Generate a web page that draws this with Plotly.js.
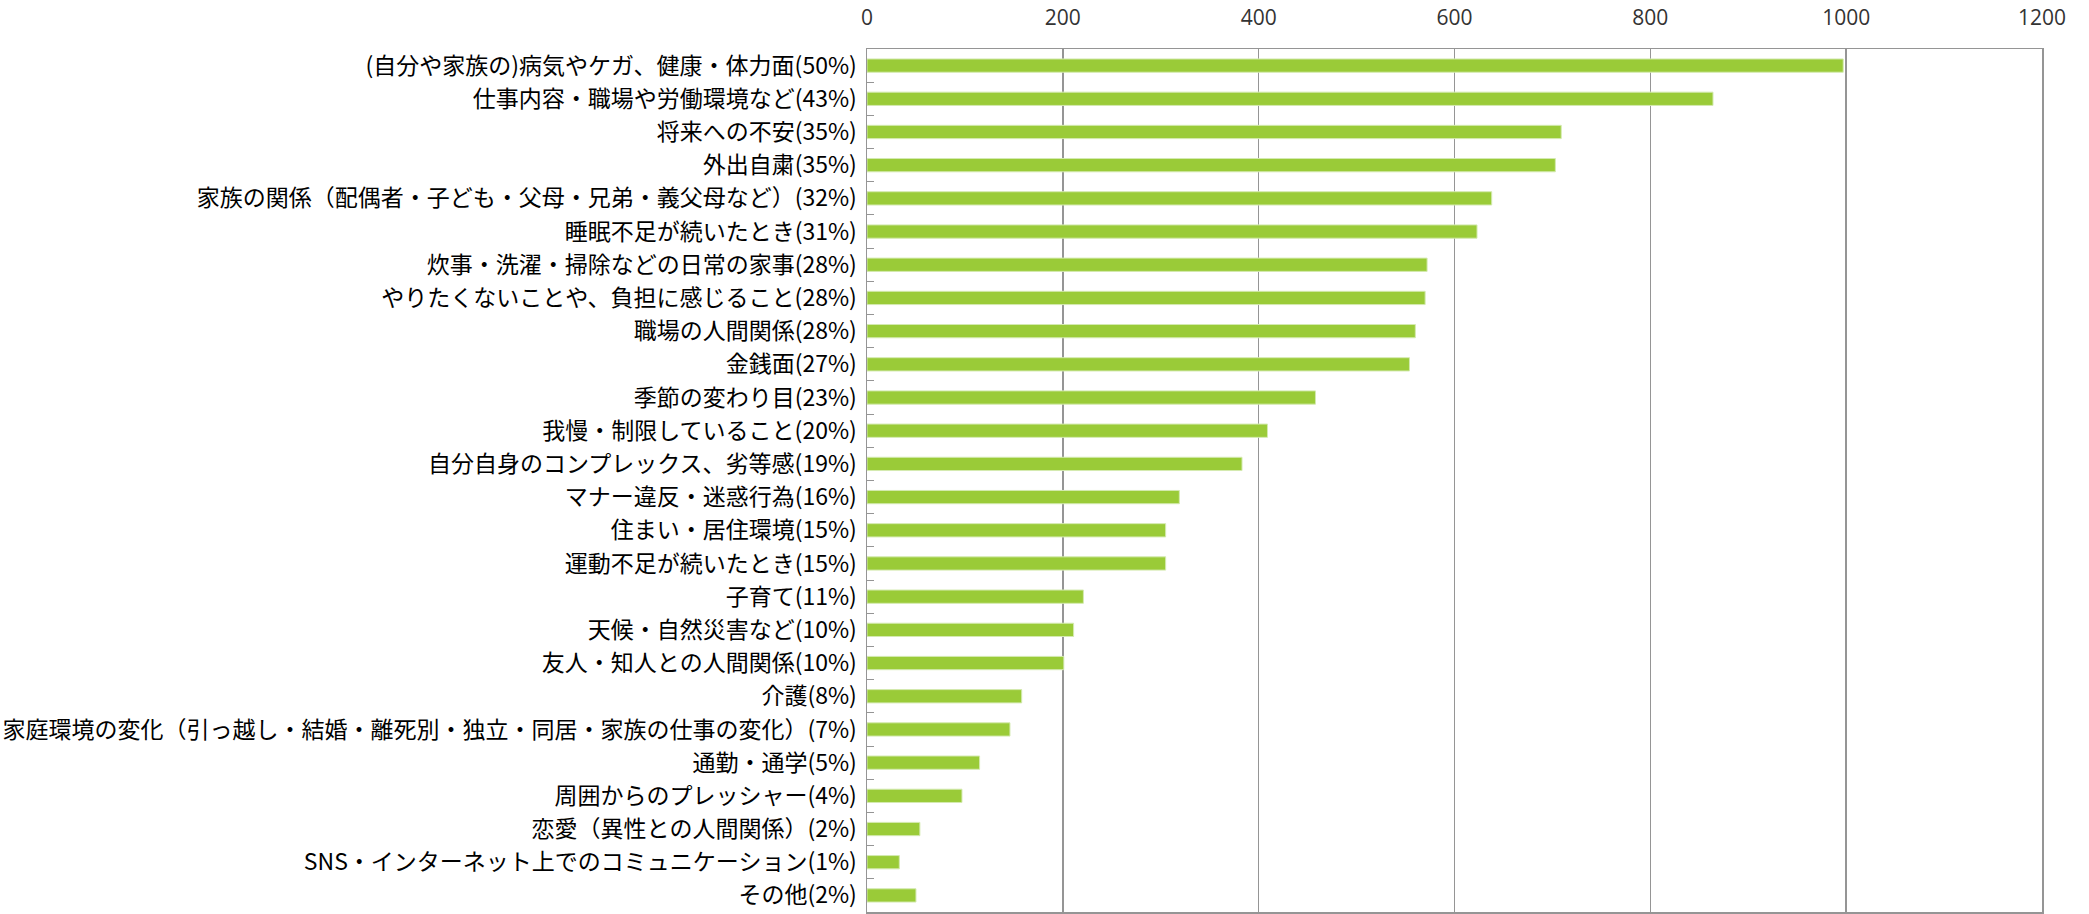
<!DOCTYPE html>
<html>
<head>
<meta charset="utf-8">
<script src="https://cdn.plot.ly/plotly-3.0.1.min.js"></script>
<style>html,body{margin:0;padding:0;background:#fff;}#chart{width:2089px;height:914px;}</style>
</head>
<body>
<div id="chart"></div>
<script>
const categories = [
  "(自分や家族の)病気やケガ、健康・体力面(50%)",
  "仕事内容・職場や労働環境など(43%)",
  "将来への不安(35%)",
  "外出自粛(35%)",
  "家族の関係（配偶者・子ども・父母・兄弟・義父母など）(32%)",
  "睡眠不足が続いたとき(31%)",
  "炊事・洗濯・掃除などの日常の家事(28%)",
  "やりたくないことや、負担に感じること(28%)",
  "職場の人間関係(28%)",
  "金銭面(27%)",
  "季節の変わり目(23%)",
  "我慢・制限していること(20%)",
  "自分自身のコンプレックス、劣等感(19%)",
  "マナー違反・迷惑行為(16%)",
  "住まい・居住環境(15%)",
  "運動不足が続いたとき(15%)",
  "子育て(11%)",
  "天候・自然災害など(10%)",
  "友人・知人との人間関係(10%)",
  "介護(8%)",
  "家庭環境の変化（引っ越し・結婚・離死別・独立・同居・家族の仕事の変化）(7%)",
  "通勤・通学(5%)",
  "周囲からのプレッシャー(4%)",
  "恋愛（異性との人間関係）(2%)",
  "SNS・インターネット上でのコミュニケーション(1%)",
  "その他(2%)"
];
const values = [997, 864, 709, 703, 638, 623, 572, 570, 560, 554, 458, 409, 383, 319, 305, 305, 221, 211, 201, 158, 146, 115, 97, 54, 33, 50];
const xTicks = [0, 200, 400, 600, 800, 1000, 1200];

const trace = {
  type: 'bar',
  orientation: 'h',
  y: categories,
  x: values,
  width: 0.4,
  marker: {color: '#9ACB38', line: {color: '#D4EAB0', width: 1}},
  hoverinfo: 'x+y'
};

const layout = {
  width: 2089,
  height: 914,
  margin: {l: 867, r: 47, t: 49, b: 2, pad: 0},
  paper_bgcolor: '#ffffff',
  plot_bgcolor: '#ffffff',
  showlegend: false,
  bargap: 0.6,
  font: {family: '"Noto Sans CJK JP", "Noto Sans", sans-serif', color: '#000000'},
  xaxis: {
    side: 'top',
    range: [0, 1200],
    tickvals: xTicks,
    ticktext: xTicks.map(String),
    showgrid: true,
    gridcolor: '#959595',
    gridwidth: 1.5,
    zeroline: false,
    showline: true,
    linecolor: '#959595',
    linewidth: 1.5,
    mirror: true,
    ticks: '',
    ticklabelstandoff: 14,
    tickfont: {family: '"Open Sans", "Noto Sans", sans-serif', size: 21, color: '#333333'},
    fixedrange: true
  },
  yaxis: {
    type: 'category',
    autorange: 'reversed',
    showgrid: false,
    showline: true,
    linecolor: '#959595',
    linewidth: 1.5,
    mirror: true,
    ticks: 'inside',
    tickson: 'boundaries',
    ticklen: 7,
    tickcolor: '#959595',
    tickwidth: 1,
    ticklabelstandoff: 4,
    tickfont: {family: '"Noto Sans CJK JP", sans-serif', size: 23, color: '#000000'},
    automargin: false,
    fixedrange: true
  }
};

Plotly.newPlot('chart', [trace], layout, {displayModeBar: false, staticPlot: true});
</script>
</body>
</html>
